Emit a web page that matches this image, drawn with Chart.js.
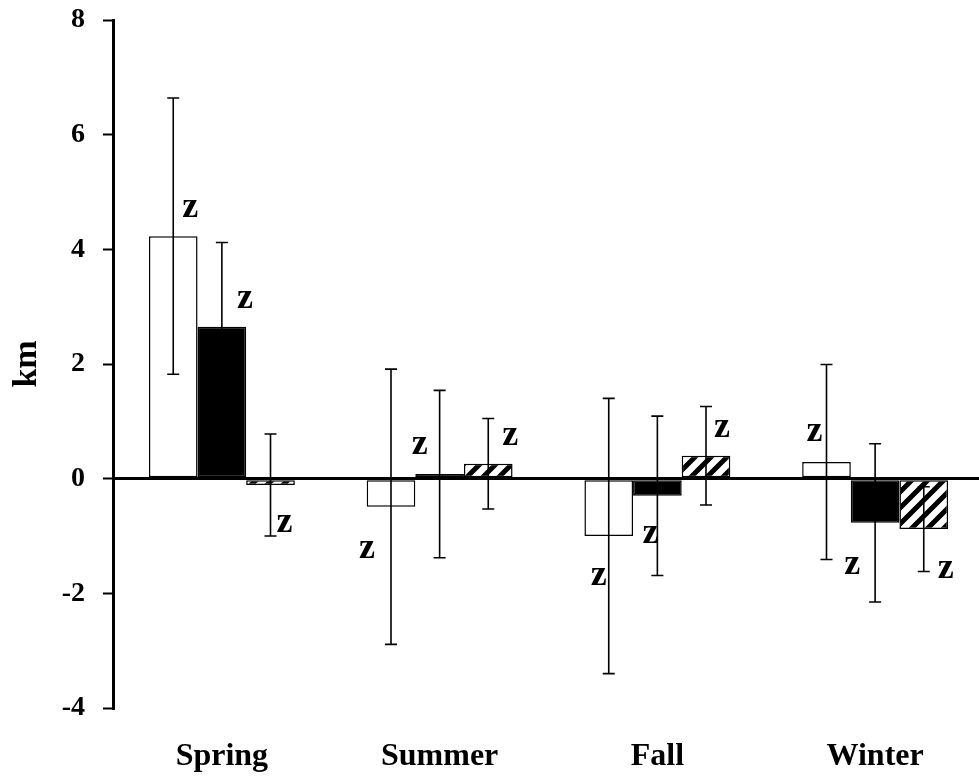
<!DOCTYPE html>
<html>
<head>
<meta charset="utf-8">
<script src="https://cdn.jsdelivr.net/npm/chart.js@4.4.0/dist/chart.umd.min.js"></script>
<style>
html, body { margin: 0; padding: 0; background: #fff; overflow: hidden; }
#wrap { position: relative; width: 984px; height: 776px; }
</style>
</head>
<body>
<div id="wrap"><canvas id="seasonChart"></canvas></div>
<script>
const seasons = ["Spring", "Summer", "Fall", "Winter"];
const yTicks = [-4, -2, 0, 2, 4, 6, 8];

// means and error bar half-widths (km)
const whiteMeans = [4.23, -0.49, -1.0, 0.29];
const whiteErrors = [2.41, 2.40, 2.40, 1.70];
const blackMeans = [2.65, 0.08, -0.30, -0.77];
const blackErrors = [1.47, 1.46, 1.39, 1.38];
const hatchMeans = [-0.11, 0.26, 0.40, -0.88];
const hatchErrors = [0.89, 0.79, 0.86, 0.74];

// significance letters and the km level they sit at
const whiteMarks = ["z", "z", "z", "z"];
const blackMarks = ["z", "z", "z", "z"];
const hatchMarks = ["z", "z", "z", "z"];
const whiteMarkY = [4.72, -1.23, -1.70, 0.80];
const blackMarkY = [3.12, 0.57, -0.98, -1.51];
const hatchMarkY = [-0.79, 0.73, 0.87, -1.59];

const serif = "'Liberation Serif', 'Times New Roman', serif";
Chart.defaults.color = "#000";
Chart.defaults.font.family = serif;

function makeHatch() {
    const c = document.createElement("canvas");
    c.width = 16;
    c.height = 16;
    const g = c.getContext("2d");
    g.fillStyle = "#fff";
    g.fillRect(0, 0, 16, 16);
    g.strokeStyle = "#000";
    g.lineWidth = 5;
    g.beginPath();
    g.moveTo(-4, 4); g.lineTo(4, -4);
    g.moveTo(0, 16); g.lineTo(16, 0);
    g.moveTo(12, 20); g.lineTo(20, 12);
    g.stroke();
    return g.createPattern(c, "repeat");
}

// error bars drawn on top of the bars
const errorBars = {
    id: "errorBars",
    afterDatasetsDraw(chart) {
        const ctx = chart.ctx;
        const y = chart.scales.y;
        ctx.save();
        ctx.strokeStyle = "#000";
        ctx.lineWidth = 1.6;
        chart.data.datasets.forEach((ds, i) => {
            chart.getDatasetMeta(i).data.forEach((bar, j) => {
                const top = y.getPixelForValue(ds.data[j] + ds.errors[j]);
                const bot = y.getPixelForValue(ds.data[j] - ds.errors[j]);
                ctx.beginPath();
                ctx.moveTo(bar.x, top); ctx.lineTo(bar.x, bot);
                ctx.moveTo(bar.x - 6, top); ctx.lineTo(bar.x + 6, top);
                ctx.moveTo(bar.x - 6, bot); ctx.lineTo(bar.x + 6, bot);
                ctx.stroke();
            });
        });
        ctx.restore();
    },
};

// the "z" letters next to each error bar
const markLabels = {
    id: "markLabels",
    afterDraw(chart) {
        const ctx = chart.ctx;
        const y = chart.scales.y;
        ctx.save();
        ctx.fillStyle = "#000";
        ctx.font = "bold 36px " + serif;
        ctx.textAlign = "center";
        ctx.textBaseline = "alphabetic";
        chart.data.datasets.forEach((ds, i) => {
            chart.getDatasetMeta(i).data.forEach((bar, j) => {
                ctx.fillText(ds.marks[j], bar.x + ds.markDx[j], y.getPixelForValue(ds.markY[j]) + 8.5);
            });
        });
        ctx.restore();
    },
};

const ctx = document.getElementById("seasonChart").getContext("2d");
const seasonChart = new Chart(ctx, {
    type: "bar",
    data: {
        labels: seasons,
        datasets: [
            {
                data: whiteMeans,
                errors: whiteErrors,
                marks: whiteMarks,
                markY: whiteMarkY,
                markDx: [17, -24, -10, -12],
                backgroundColor: "#fff",
                borderColor: "#000",
                borderWidth: 1.5,
                borderSkipped: false,
            },
            {
                data: blackMeans,
                errors: blackErrors,
                marks: blackMarks,
                markY: blackMarkY,
                markDx: [23, -20, -7, -23],
                backgroundColor: "#000",
                borderColor: "#000",
                borderWidth: 1.5,
                borderSkipped: false,
            },
            {
                data: hatchMeans,
                errors: hatchErrors,
                marks: hatchMarks,
                markY: hatchMarkY,
                markDx: [14, 22, 16, 22],
                backgroundColor: makeHatch(),
                borderColor: "#000",
                borderWidth: 1.5,
                borderSkipped: false,
            },
        ],
    },
    options: {
        responsive: true,
        maintainAspectRatio: false,
        animation: false,
        layout: { padding: { top: 20, bottom: 0, left: 0, right: 0 } },
        datasets: { bar: { barPercentage: 1.0, categoryPercentage: 0.67 } },
        scales: {
            x: {
                grid: { display: false, drawTicks: false, tickLength: 0 },
                border: { display: false },
                afterFit: (s) => { s.height = 68; },
                ticks: {
                    padding: 30,
                    maxRotation: 0,
                    autoSkip: false,
                    font: { size: 32, weight: "bold" },
                },
            },
            y: {
                min: -4,
                max: 8,
                z: 1,
                afterBuildTicks: (scale) => {
                    scale.ticks = yTicks.map((v) => ({ value: v }));
                },
                afterFit: (s) => {
                    s.paddingTop = 0;
                    s.paddingBottom = 0;
                    s.width = 113;
                },
                border: { display: true, color: "#000", width: 3 },
                grid: {
                    color: (c) => (c.tick && c.tick.value === 0 ? "#000" : "rgba(0,0,0,0)"),
                    lineWidth: 3,
                    tickColor: "#000",
                    tickWidth: 2,
                    tickLength: 10,
                },
                ticks: {
                    padding: 18,
                    font: { size: 28, weight: "bold" },
                },
                title: {
                    display: true,
                    text: "km",
                    padding: { top: 7, bottom: 0 },
                    font: { size: 34, weight: "bold" },
                },
            },
        },
        plugins: {
            legend: { display: false },
            tooltip: { enabled: false },
        },
    },
    plugins: [errorBars, markLabels],
});
</script>
</body>
</html>
